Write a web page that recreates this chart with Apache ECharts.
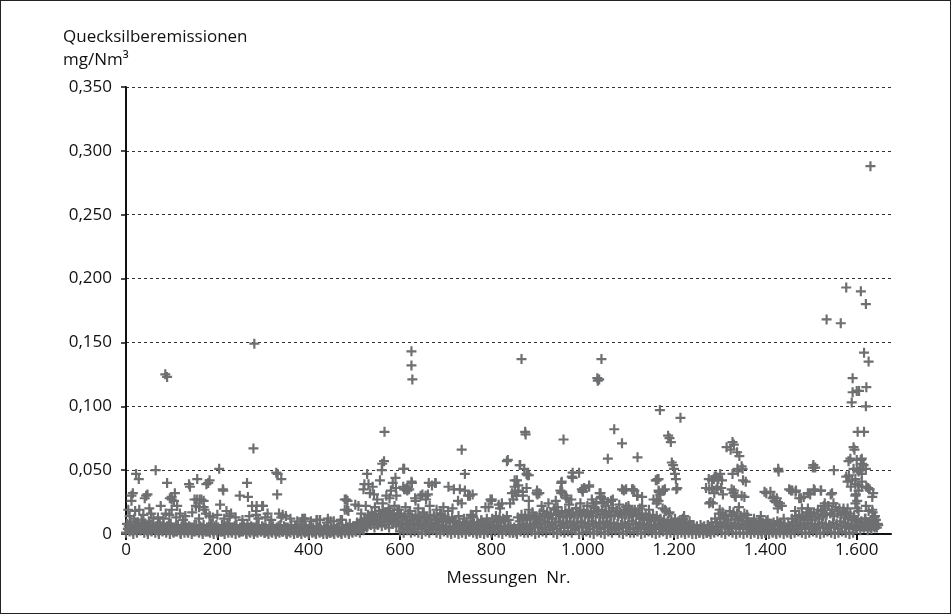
<!DOCTYPE html>
<html>
<head>
<meta charset="utf-8">
<script src="https://cdn.jsdelivr.net/npm/echarts@6/dist/echarts.min.js"></script>
<style>
  html, body { margin: 0; padding: 0; background: #fff; }
  #chart { width: 951px; height: 614px; box-sizing: border-box; border: 1.5px solid #222; }
</style>
</head>
<body>
<div id="chart"></div>
<script>
// Werte in 0,001 mg/Nm3
// dichtes Band nahe 0, je ein Wert pro 8 Messungen (mehrere Lagen)
var bandLow = [
  1,2,0,1,3,1,0,2,1,0,
  2,1,0,1,2,0,1,1,0,2,
  1,0,2,1,0,1,2,0,1,1,
  0,1,2,0,1,0,1,2,1,0,
  1,0,1,2,0,1,0,1,0,1,
  0,1,0,1,0,0,1,0,1,0,
  1,0,1,2,1,3,6,7,5,8,
  6,7,5,8,6,2,1,3,1,2,
  1,0,2,1,3,1,0,2,1,0,
  1,0,1,0,2,1,0,1,0,1,
  1,2,1,0,2,1,1,0,2,1,
  1,2,0,1,2,1,3,1,0,2,
  1,2,1,3,0,1,2,1,0,2,
  1,0,2,1,3,1,0,2,1,1,
  2,0,1,2,1,0,1,2,0,1,
  1,0,1,0,1,0,0,1,0,1,
  0,1,2,1,0,2,1,0,1,0,
  1,0,1,0,0,1,0,1,0,1,
  0,1,0,1,2,1,0,1,2,1,
  0,1,2,1,0,1,2,1,0,1,
  4,3,5,3,4,6
];
var bandLower = [
  3,2,4,3,5,2,3,4,2,3,
  3,4,2,3,1,3,2,4,3,2,
  2,3,4,2,3,2,4,3,2,3,
  2,3,1,3,2,3,2,1,3,2,
  2,3,2,1,3,2,1,3,2,3,
  2,1,2,3,1,2,1,2,1,2,
  2,3,2,3,4,5,8,9,7,10,
  9,10,8,9,7,4,5,3,4,6,
  4,5,3,4,5,3,4,3,2,4,
  3,2,3,2,3,2,1,3,2,3,
  4,5,3,4,3,1,2,4,5,3,
  4,5,6,4,5,6,5,4,6,5,
  5,6,4,5,6,5,4,6,5,4,
  5,6,4,5,4,5,6,4,5,4,
  5,4,5,3,4,5,3,4,3,4,
  3,4,2,3,2,3,1,2,1,2,
  2,3,5,6,4,5,6,4,5,4,
  3,2,3,2,1,3,2,1,2,3,
  2,1,3,4,5,4,5,4,3,5,
  5,4,6,5,4,6,5,4,5,4,
  6,5,7,6,5,7
];
var bandMid = [
  4,6,3,5,4,6,3,5,4,3,
  4,3,5,2,4,3,5,3,2,4,
  3,4,2,5,3,4,2,3,5,3,
  4,2,3,5,3,2,4,3,2,4,
  3,2,4,3,2,4,3,2,3,2,
  3,2,3,2,3,2,2,3,2,3,
  3,4,3,5,6,8,10,12,11,13,
  12,13,11,12,10,8,9,7,8,9,
  7,8,9,7,8,6,7,6,5,6,
  5,4,5,4,5,4,3,5,4,5,
  6,7,5,6,5,3,4,7,8,6,
  7,8,9,8,10,9,8,9,10,8,
  9,10,8,9,10,9,8,10,9,8,
  9,10,8,9,8,7,9,8,10,8,
  9,7,8,7,6,8,7,6,5,6,
  5,6,4,5,4,5,3,4,3,2,
  4,6,8,9,7,9,8,7,8,7,
  5,4,5,3,4,5,4,3,4,5,
  3,4,6,7,8,7,9,8,7,8,
  9,8,7,9,8,10,9,8,7,6,
  7,8,6,7,8,5
];
var bandUpper = [
  6,3,8,5,9,4,7,5,8,6,
  5,8,3,6,4,7,3,5,7,4,
  5,2,6,4,7,3,5,8,3,6,
  3,6,4,2,5,7,3,5,4,2,
  4,6,2,5,4,3,5,7,2,4,
  4,3,5,2,4,1,3,5,2,4,
  5,2,6,7,9,10,13,14,9,15,
  15,10,14,13,16,12,11,10,11,12,
  10,12,11,9,11,9,10,11,9,10,
  7,6,7,6,7,6,6,7,6,7,
  9,10,9,10,11,4,2,10,12,11,
  12,13,11,12,14,13,12,15,14,13,
  14,15,13,15,14,15,13,14,16,13,
  15,13,14,15,14,13,15,13,14,15,
  12,11,12,10,11,10,9,8,7,8,
  8,7,8,6,7,4,3,5,4,5,
  6,9,12,13,11,14,12,11,10,12,
  7,6,7,6,7,8,6,7,8,6,
  5,6,9,10,12,11,12,11,13,12,
  14,15,16,14,16,15,13,12,11,10,
  9,6,9,8,6,8
];
var bandTop = [
  8,10,7,9,6,8,10,7,6,8,
  7,6,8,5,7,6,8,6,5,7,
  6,7,5,8,6,5,7,6,8,5,
  7,5,6,8,6,5,7,6,5,7,
  6,5,7,6,5,7,6,5,6,5,
  6,5,6,4,5,6,5,4,6,5,
  7,8,6,9,11,12,15,17,16,18,
  19,17,18,16,19,15,14,16,13,15,
  14,16,13,15,14,12,15,13,12,13,
  10,9,8,10,9,8,9,10,8,9,
  12,14,13,12,14,6,5,13,15,14,
  15,17,13,16,18,17,16,19,18,17,
  18,19,17,20,18,19,17,18,20,18,
  19,17,18,20,18,17,19,18,17,19,
  16,15,16,14,15,14,12,11,10,11,
  12,10,11,9,10,7,6,7,6,7,
  9,12,16,17,15,18,17,16,14,16,
  10,9,8,10,9,10,8,9,10,8,
  7,8,12,14,15,14,16,15,17,16,
  18,20,22,19,21,20,18,17,16,14,
  11,10,12,9,10,11
];

// einzelne Messwerte oberhalb des Bandes [Messung Nr., Wert]
var scatterPts = [
  [22,47],[28,43],[15,32],[12,26],[5,19],[20,18],[29,19],[34,11],[44,30],[47,31],
  [51,20],[65,50],[60,12],[76,22],[90,40],[87,16],[96,28],[105,26],[107,32],[112,22],
  [100,19],[118,16],[125,11],[138,39],[150,27],[153,22],[156,43],[161,27],[170,26],[176,39],
  [180,40],[183,42],[172,19],[183,14],[204,51],[212,35],[206,23],[220,18],[227,14],[249,30],
  [265,40],[276,22],[285,18],[285,15],[298,22],[310,16],[329,48],[332,47],[331,31],[340,43],
  [343,15],[350,14],[12,30],[41,28],[100,29],[100,27],[140,37],[213,34],[155,27],[165,27],
  [160,21],[170,21],[267,29],[286,22],[300,22],[386,12],[417,11],[340,13],
  [8,14],[18,12],[38,15],[55,16],[70,13],[82,12],[95,15],[110,13],[130,14],[145,17],
  [160,12],[175,16],[190,13],[200,15],[215,12],[230,16],[240,13],[255,11],[270,14],[290,12],
  [305,13],[318,11],[335,16],[360,12],[375,10],[390,12],[405,10],[425,11],[440,9],[455,10],[470,11],
  [86,125],[90,123],[281,149],[279,67],
  [392,12],[419,11],[448,10],[473,11],[482,27],[484,19],[502,23],[520,35],[528,47],[531,39],
  [534,32],[543,31],[550,27],[556,42],[560,50],[561,55],[565,57],[566,80],[570,30],[577,28],
  [584,40],[590,44],[591,36],[607,51],[609,35],[616,34],[626,40],[634,26],[649,31],[656,30],
  [670,38],[677,40],[688,16],[735,66],[742,47],[731,35],[742,34],[735,24],[749,30],[755,15],
  [767,18],[485,26],[487,18],[509,22],[625,143],[625,132],[627,121],
  [479,27],[479,19],[442,12],[522,39],[540,37],[580,34],[592,30],[607,37],[613,35],[633,28],
  [645,30],[657,27],[663,40],[706,37],[718,35],[727,26],[801,27],[794,21],[841,24],[869,30],
  [851,37],[515,16],[525,22],[545,21],[562,24],[575,20],[588,22],[598,19],[612,21],[622,18],
  [640,20],[652,17],[665,22],[680,19],[695,21],[705,18],[715,20],[728,14],[740,12],[760,13],
  [778,11],[790,12],
  [609,51],[625,41],[615,36],[620,35],[661,31],[678,40],[690,16],[753,30],[800,26],[816,23],
  [834,57],[866,137],[874,80],[875,78],[863,54],[872,51],[877,47],[882,46],[856,42],[859,38],
  [845,32],[852,33],[859,34],[877,36],[899,32],[958,74],[953,40],[978,48],[978,44],[992,48],
  [953,32],[964,28],[1000,34],[1014,38],[1032,122],[1036,121],[1033,120],[1041,137],[1039,32],[1046,27],
  [1055,59],[1069,82],[1086,71],[1090,34],[1113,34],[1120,30],[1120,60],[1169,97],[1214,91],[1162,42],
  [1190,75],[1187,77],[1193,72],[1195,56],[1198,54],[1200,51],[1202,47],[1204,43],[1205,35],[1162,27],
  [1170,31],[1176,34],[1182,18],[1219,12],
  [836,58],[862,54],[879,46],[851,42],[855,30],[869,33],[848,27],[882,26],[882,19],[900,34],
  [901,31],[759,31],[759,14],[798,27],[823,24],[819,20],[787,21],[941,26],[937,20],[954,41],
  [951,34],[962,30],[976,45],[998,35],[1003,36],[1037,32],[1041,28],[1023,24],[1044,24],[1066,27],
  [1086,35],[1108,35],[1119,30],[1101,20],[1108,18],[1160,42],[1164,43],[1155,27],[1162,24],[1166,34],
  [905,32],[955,33],[965,28],[975,27],[1000,33],[1014,37],[995,24],[1020,27],[1030,25],[1040,29],
  [1055,25],[1062,26],[1075,18],[1095,35],[1110,35],[1130,29],[1100,22],[1125,20],[1167,33],[1180,35],
  [1207,36],[1175,20],[1190,17],[1222,14],[1220,12],[1277,35],[1295,37],[1280,25],[1300,19],[1330,32],
  [910,22],[925,24],[945,21],[970,23],[985,20],[1010,22],[1025,21],[1050,22],[1065,20],[1080,23],
  [1095,21],[1130,22],[1145,19],
  [1630,288],[1577,193],[1609,190],[1620,180],[1534,168],[1565,165],[1616,142],[1626,135],[1591,122],[1591,111],
  [1600,112],[1605,112],[1621,115],[1589,103],[1620,100],[1602,80],[1616,80],[1595,66],[1582,57],[1609,58],
  [1612,55],[1600,51],[1607,50],[1620,51],[1577,45],[1580,41],[1587,37],[1597,39],[1604,34],[1611,37],
  [1621,37],[1628,35],[1634,29],[1598,31],[1601,26],[1604,18],[1626,18],[1638,13],[1630,8],[1604,8],
  [1331,70],[1324,66],[1343,61],[1350,51],[1340,49],[1357,41],[1287,43],[1292,45],[1297,43],[1283,36],
  [1293,35],[1303,36],[1285,24],[1307,31],[1331,34],[1335,29],[1342,21],[1354,29],[1429,49],[1402,32],
  [1418,29],[1423,25],[1427,20],[1459,34],[1466,33],[1478,28],[1498,31],[1508,34],[1522,34],[1543,31],
  [1504,52],[1509,52],[1550,50],[1530,24],[1537,22],[1549,24],
  [1166,43],[1175,34],[1166,26],[1180,19],[1188,16],[1276,43],[1283,42],[1289,45],[1270,36],[1277,24],
  [1288,32],[1301,47],[1305,42],[1315,68],[1328,72],[1338,64],[1328,47],[1339,51],[1348,53],[1351,42],
  [1326,35],[1333,30],[1348,30],[1398,33],[1416,28],[1420,26],[1428,51],[1452,35],[1456,34],[1474,28],
  [1493,32],[1506,35],[1521,34],[1505,54],[1546,32],[1528,22],[1493,20],[1500,16],[1571,20],[1575,16],
  [1593,68],[1586,59],[1600,58],[1611,59],[1615,54],[1593,51],[1604,49],[1611,47],[1583,46],[1590,42],
  [1597,43],[1604,38],[1611,41],[1625,36],[1636,32],[1597,30],[1597,24],[1601,20],[1634,19],[1640,14],
  [1619,12],[1608,8],[1630,5],[1640,11],
  [1411,33],[1425,28],[1432,24],[1436,22],[1467,34],[1484,29],
  [1360,15],[1375,12],[1390,14],[1405,11],[1440,12],[1465,18],[1480,20],[1495,17],[1515,19],[1530,16],
  [1560,18],[1580,20],[1620,22],[1635,17]
];

var xTicks = [0, 200, 400, 600, 800, 1000, 1200, 1400, 1600];

var points = [];
bandLow.forEach(function (v, i) { points.push([i * 8, v / 1000]); });
bandTop.forEach(function (v, i) { points.push([i * 8 + 2, v / 1000]); });
bandMid.forEach(function (v, i) { points.push([i * 8 + 4, v / 1000]); });
bandUpper.forEach(function (v, i) { points.push([i * 8 + 6, v / 1000]); });
bandLower.forEach(function (v, i) { points.push([i * 8 + 7, v / 1000]); });
scatterPts.forEach(function (p) { points.push([p[0], p[1] / 1000]); });

var FONT = 'Open Sans';
var chart = echarts.init(document.getElementById('chart'), null, { renderer: 'canvas' });

var option = {
  animation: false,
  title: {
    text: 'Quecksilberemissionen\nmg/Nm³',
    left: 57,
    top: 20,
    textStyle: { fontFamily: FONT, fontSize: 17, fontWeight: 'normal', color: '#111', lineHeight: 23 }
  },
  grid: { left: 125, right: 59, top: 86, bottom: 79 },
  xAxis: {
    type: 'value',
    min: 0,
    max: 1675,
    interval: 200,
    name: 'Messungen  Nr.',
    nameLocation: 'middle',
    nameGap: 36,
    nameTextStyle: { fontFamily: FONT, fontSize: 17, color: '#111' },
    axisLine: { show: true, onZero: false, lineStyle: { color: '#111', width: 2 } },
    axisTick: { show: true, length: 6, lineStyle: { color: '#111', width: 2 }, customValues: xTicks },
    axisLabel: {
      fontFamily: FONT, fontSize: 17, color: '#111', margin: 8,
      customValues: xTicks,
      formatter: function (v) {
        if (v >= 1000) return Math.floor(v / 1000) + '.' + String(v % 1000).padStart(3, '0');
        return String(v);
      }
    },
    splitLine: { show: false }
  },
  yAxis: {
    type: 'value',
    min: 0,
    max: 0.35,
    interval: 0.05,
    axisLine: { show: true, lineStyle: { color: '#111', width: 2 } },
    axisTick: { show: true, length: 5, lineStyle: { color: '#111', width: 1.5 } },
    axisLabel: {
      fontFamily: FONT, fontSize: 17, color: '#111', margin: 14,
      formatter: function (v) {
        return v === 0 ? '0' : v.toFixed(3).replace('.', ',');
      }
    },
    splitLine: { show: true, lineStyle: { color: '#333', width: 1, type: [3, 3] } }
  },
  series: [{
    type: 'scatter',
    data: points,
    symbol: 'path://M3.9,0H6.1V3.9H10V6.1H6.1V10H3.9V6.1H0V3.9H3.9Z',
    symbolSize: 10,
    itemStyle: { color: '#6e6f71', opacity: 1 },
    emphasis: { disabled: true },
    silent: true
  }]
};

chart.setOption(option);
</script>
</body>
</html>
